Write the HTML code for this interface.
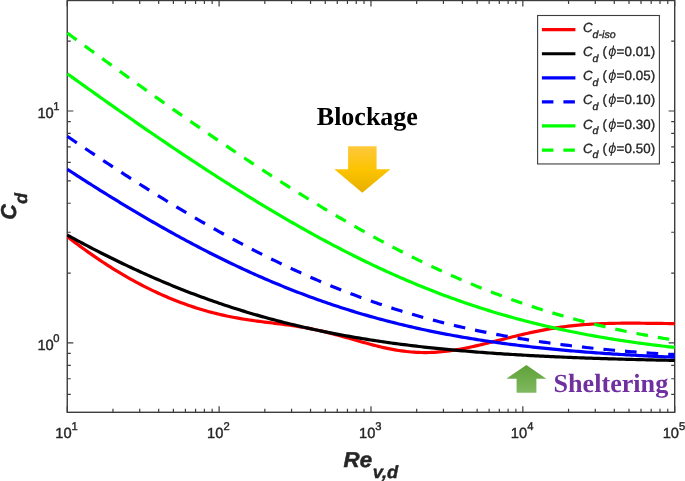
<!DOCTYPE html>
<html><head><meta charset="utf-8"><title>Cd</title>
<style>
html,body{margin:0;padding:0;background:#fff;}
body{width:685px;height:481px;overflow:hidden;}
svg{display:block;will-change:transform;}
text{text-rendering:geometricPrecision;font-family:"Liberation Sans",sans-serif;fill:#262626;}
.tk{font-size:14.7px;stroke:#262626;stroke-width:0.4px;}
.sp{font-size:11.2px;}
.lg{font-size:13.3px;font-style:italic;stroke:#262626;stroke-width:0.35px;}
.lgs{font-size:10.6px;font-style:italic;}
.lgr{font-size:13.3px;font-style:normal;}
.ph{font-size:14.6px;font-style:italic;stroke-width:0;}
.al{font-size:21.5px;font-weight:bold;font-style:italic;stroke:#262626;stroke-width:0.5px;}
.als{font-size:17.6px;font-weight:bold;font-style:italic;stroke:#262626;stroke-width:0.4px;}
.an{font-family:"Liberation Serif",serif;font-weight:bold;font-size:26px;}
.an2{font-size:26.15px;}
</style></head><body>
<svg width="685" height="481" viewBox="0 0 685 481">
<defs>
<linearGradient id="gy" x1="0" y1="0" x2="0" y2="1"><stop offset="0" stop-color="#ffc83c"/><stop offset="0.5" stop-color="#fcc400"/><stop offset="1" stop-color="#e6af00"/></linearGradient>
<linearGradient id="gg" x1="0" y1="0" x2="0" y2="1"><stop offset="0" stop-color="#5fa137"/><stop offset="1" stop-color="#80b960"/></linearGradient>
<clipPath id="cp"><rect x="66.65" y="-0.10" width="608.65" height="413.00"/></clipPath>
</defs>
<rect width="685" height="481" fill="#fff"/>
<path d="M67.25 412.30V406.20 M67.25 0.50V6.60 M112.97 412.30V408.80 M112.97 0.50V4.00 M139.71 412.30V408.80 M139.71 0.50V4.00 M158.68 412.30V408.80 M158.68 0.50V4.00 M173.40 412.30V408.80 M173.40 0.50V4.00 M185.42 412.30V408.80 M185.42 0.50V4.00 M195.59 412.30V408.80 M195.59 0.50V4.00 M204.40 412.30V408.80 M204.40 0.50V4.00 M212.16 412.30V408.80 M212.16 0.50V4.00 M219.11 412.30V406.20 M219.11 0.50V6.60 M264.83 412.30V408.80 M264.83 0.50V4.00 M291.57 412.30V408.80 M291.57 0.50V4.00 M310.54 412.30V408.80 M310.54 0.50V4.00 M325.26 412.30V408.80 M325.26 0.50V4.00 M337.28 412.30V408.80 M337.28 0.50V4.00 M347.45 412.30V408.80 M347.45 0.50V4.00 M356.26 412.30V408.80 M356.26 0.50V4.00 M364.03 412.30V408.80 M364.03 0.50V4.00 M370.98 412.30V406.20 M370.98 0.50V6.60 M416.69 412.30V408.80 M416.69 0.50V4.00 M443.43 412.30V408.80 M443.43 0.50V4.00 M462.41 412.30V408.80 M462.41 0.50V4.00 M477.12 412.30V408.80 M477.12 0.50V4.00 M489.15 412.30V408.80 M489.15 0.50V4.00 M499.31 412.30V408.80 M499.31 0.50V4.00 M508.12 412.30V408.80 M508.12 0.50V4.00 M515.89 412.30V408.80 M515.89 0.50V4.00 M522.84 412.30V406.20 M522.84 0.50V6.60 M568.55 412.30V408.80 M568.55 0.50V4.00 M595.29 412.30V408.80 M595.29 0.50V4.00 M614.27 412.30V408.80 M614.27 0.50V4.00 M628.98 412.30V408.80 M628.98 0.50V4.00 M641.01 412.30V408.80 M641.01 0.50V4.00 M651.18 412.30V408.80 M651.18 0.50V4.00 M659.98 412.30V408.80 M659.98 0.50V4.00 M667.75 412.30V408.80 M667.75 0.50V4.00 M674.70 412.30V406.20 M674.70 0.50V6.60 M67.25 342.85H73.35 M674.70 342.85H668.60 M67.25 111.00H73.35 M674.70 111.00H668.60 M67.25 394.29H70.75 M674.70 394.29H671.20 M67.25 378.76H70.75 M674.70 378.76H671.20 M67.25 365.32H70.75 M674.70 365.32H671.20 M67.25 353.46H70.75 M674.70 353.46H671.20 M67.25 273.06H70.75 M674.70 273.06H671.20 M67.25 232.23H70.75 M674.70 232.23H671.20 M67.25 203.26H70.75 M674.70 203.26H671.20 M67.25 180.79H70.75 M674.70 180.79H671.20 M67.25 162.44H70.75 M674.70 162.44H671.20 M67.25 146.91H70.75 M674.70 146.91H671.20 M67.25 133.47H70.75 M674.70 133.47H671.20 M67.25 121.61H70.75 M674.70 121.61H671.20 M67.25 41.21H70.75 M674.70 41.21H671.20" stroke="#3c3c3c" stroke-width="1.2" fill="none"/>
<rect x="67.25" y="0.50" width="607.45" height="411.80" fill="none" stroke="#3c3c3c" stroke-width="1.4"/>
<g clip-path="url(#cp)" fill="none" stroke-width="3.20" stroke-linejoin="round">
<path d="M67.25 236.60 L69.78 238.55 L72.31 240.47 L74.84 242.38 L77.37 244.27 L79.91 246.14 L82.44 247.99 L84.97 249.82 L87.50 251.63 L90.03 253.42 L92.56 255.18 L95.09 256.93 L97.62 258.65 L100.15 260.35 L102.68 262.03 L105.22 263.69 L107.75 265.33 L110.28 266.94 L112.81 268.53 L115.34 270.10 L117.87 271.65 L120.40 273.17 L122.93 274.67 L125.46 276.15 L127.99 277.60 L130.53 279.03 L133.06 280.44 L135.59 281.82 L138.12 283.18 L140.65 284.52 L143.18 285.83 L145.71 287.12 L148.24 288.39 L150.77 289.63 L153.31 290.85 L155.84 292.05 L158.37 293.22 L160.90 294.36 L163.43 295.49 L165.96 296.59 L168.49 297.66 L171.02 298.71 L173.55 299.74 L176.08 300.74 L178.62 301.72 L181.15 302.68 L183.68 303.61 L186.21 304.52 L188.74 305.41 L191.27 306.27 L193.80 307.11 L196.33 307.93 L198.86 308.72 L201.40 309.49 L203.93 310.24 L206.46 310.96 L208.99 311.67 L211.52 312.34 L214.05 313.00 L216.58 313.64 L219.11 314.25 L221.64 314.84 L224.17 315.41 L226.71 315.95 L229.24 316.48 L231.77 316.99 L234.30 317.47 L236.83 317.94 L239.36 318.39 L241.89 318.82 L244.42 319.23 L246.95 319.63 L249.49 320.01 L252.02 320.38 L254.55 320.74 L257.08 321.08 L259.61 321.41 L262.14 321.74 L264.67 322.06 L267.20 322.37 L269.73 322.69 L272.26 323.00 L274.80 323.31 L277.33 323.62 L279.86 323.94 L282.39 324.26 L284.92 324.59 L287.45 324.93 L289.98 325.29 L292.51 325.65 L295.04 326.03 L297.57 326.43 L300.11 326.84 L302.64 327.27 L305.17 327.72 L307.70 328.18 L310.23 328.67 L312.76 329.18 L315.29 329.70 L317.82 330.25 L320.35 330.81 L322.89 331.40 L325.42 332.00 L327.95 332.62 L330.48 333.26 L333.01 333.91 L335.54 334.58 L338.07 335.26 L340.60 335.95 L343.13 336.65 L345.66 337.36 L348.20 338.07 L350.73 338.79 L353.26 339.51 L355.79 340.24 L358.32 340.96 L360.85 341.67 L363.38 342.38 L365.91 343.08 L368.44 343.77 L370.98 344.45 L373.51 345.11 L376.04 345.76 L378.57 346.38 L381.10 346.99 L383.63 347.57 L386.16 348.13 L388.69 348.66 L391.22 349.16 L393.75 349.63 L396.29 350.07 L398.82 350.48 L401.35 350.85 L403.88 351.19 L406.41 351.49 L408.94 351.76 L411.47 351.98 L414.00 352.17 L416.53 352.32 L419.06 352.44 L421.60 352.51 L424.13 352.54 L426.66 352.54 L429.19 352.50 L431.72 352.42 L434.25 352.30 L436.78 352.14 L439.31 351.95 L441.84 351.73 L444.38 351.47 L446.91 351.18 L449.44 350.85 L451.97 350.50 L454.50 350.11 L457.03 349.70 L459.56 349.27 L462.09 348.80 L464.62 348.32 L467.15 347.81 L469.69 347.28 L472.22 346.74 L474.75 346.18 L477.28 345.60 L479.81 345.01 L482.34 344.41 L484.87 343.79 L487.40 343.17 L489.93 342.54 L492.47 341.91 L495.00 341.27 L497.53 340.63 L500.06 339.98 L502.59 339.34 L505.12 338.70 L507.65 338.06 L510.18 337.43 L512.71 336.80 L515.24 336.18 L517.78 335.57 L520.31 334.96 L522.84 334.37 L525.37 333.79 L527.90 333.21 L530.43 332.65 L532.96 332.11 L535.49 331.58 L538.02 331.06 L540.55 330.56 L543.09 330.07 L545.62 329.60 L548.15 329.15 L550.68 328.72 L553.21 328.30 L555.74 327.90 L558.27 327.52 L560.80 327.15 L563.33 326.81 L565.87 326.48 L568.40 326.17 L570.93 325.88 L573.46 325.60 L575.99 325.35 L578.52 325.11 L581.05 324.88 L583.58 324.68 L586.11 324.49 L588.64 324.31 L591.18 324.15 L593.71 324.01 L596.24 323.88 L598.77 323.76 L601.30 323.66 L603.83 323.57 L606.36 323.49 L608.89 323.42 L611.42 323.36 L613.96 323.31 L616.49 323.27 L619.02 323.24 L621.55 323.22 L624.08 323.20 L626.61 323.19 L629.14 323.19 L631.67 323.19 L634.20 323.19 L636.73 323.20 L639.27 323.22 L641.80 323.24 L644.33 323.26 L646.86 323.28 L649.39 323.30 L651.92 323.33 L654.45 323.36 L656.98 323.39 L659.51 323.42 L662.04 323.45 L664.58 323.48 L667.11 323.51 L669.64 323.54 L672.17 323.57 L674.70 323.60" stroke="#ff0000"/>
<path d="M67.25 235.06 L69.78 236.44 L72.31 237.82 L74.84 239.19 L77.37 240.55 L79.91 241.91 L82.44 243.26 L84.97 244.60 L87.50 245.93 L90.03 247.25 L92.56 248.57 L95.09 249.88 L97.62 251.18 L100.15 252.47 L102.68 253.75 L105.22 255.02 L107.75 256.29 L110.28 257.55 L112.81 258.80 L115.34 260.04 L117.87 261.27 L120.40 262.50 L122.93 263.71 L125.46 264.92 L127.99 266.12 L130.53 267.31 L133.06 268.49 L135.59 269.66 L138.12 270.82 L140.65 271.97 L143.18 273.12 L145.71 274.25 L148.24 275.38 L150.77 276.50 L153.31 277.61 L155.84 278.71 L158.37 279.80 L160.90 280.88 L163.43 281.95 L165.96 283.02 L168.49 284.07 L171.02 285.11 L173.55 286.15 L176.08 287.18 L178.62 288.19 L181.15 289.20 L183.68 290.20 L186.21 291.19 L188.74 292.17 L191.27 293.14 L193.80 294.10 L196.33 295.05 L198.86 296.00 L201.40 296.93 L203.93 297.86 L206.46 298.77 L208.99 299.68 L211.52 300.57 L214.05 301.46 L216.58 302.34 L219.11 303.21 L221.64 304.07 L224.17 304.92 L226.71 305.76 L229.24 306.60 L231.77 307.42 L234.30 308.23 L236.83 309.04 L239.36 309.84 L241.89 310.62 L244.42 311.40 L246.95 312.17 L249.49 312.93 L252.02 313.68 L254.55 314.43 L257.08 315.16 L259.61 315.89 L262.14 316.61 L264.67 317.31 L267.20 318.01 L269.73 318.70 L272.26 319.39 L274.80 320.06 L277.33 320.73 L279.86 321.39 L282.39 322.04 L284.92 322.68 L287.45 323.31 L289.98 323.93 L292.51 324.55 L295.04 325.16 L297.57 325.76 L300.11 326.35 L302.64 326.94 L305.17 327.51 L307.70 328.08 L310.23 328.65 L312.76 329.20 L315.29 329.75 L317.82 330.29 L320.35 330.82 L322.89 331.34 L325.42 331.86 L327.95 332.37 L330.48 332.87 L333.01 333.37 L335.54 333.85 L338.07 334.34 L340.60 334.81 L343.13 335.28 L345.66 335.74 L348.20 336.19 L350.73 336.64 L353.26 337.08 L355.79 337.52 L358.32 337.95 L360.85 338.37 L363.38 338.78 L365.91 339.19 L368.44 339.59 L370.98 339.99 L373.51 340.38 L376.04 340.77 L378.57 341.15 L381.10 341.52 L383.63 341.89 L386.16 342.25 L388.69 342.61 L391.22 342.96 L393.75 343.30 L396.29 343.64 L398.82 343.98 L401.35 344.31 L403.88 344.63 L406.41 344.95 L408.94 345.26 L411.47 345.57 L414.00 345.88 L416.53 346.17 L419.06 346.47 L421.60 346.76 L424.13 347.04 L426.66 347.32 L429.19 347.60 L431.72 347.87 L434.25 348.14 L436.78 348.40 L439.31 348.66 L441.84 348.91 L444.38 349.16 L446.91 349.40 L449.44 349.65 L451.97 349.88 L454.50 350.12 L457.03 350.35 L459.56 350.57 L462.09 350.79 L464.62 351.01 L467.15 351.23 L469.69 351.44 L472.22 351.64 L474.75 351.85 L477.28 352.05 L479.81 352.24 L482.34 352.44 L484.87 352.63 L487.40 352.81 L489.93 353.00 L492.47 353.18 L495.00 353.35 L497.53 353.53 L500.06 353.70 L502.59 353.87 L505.12 354.03 L507.65 354.20 L510.18 354.36 L512.71 354.51 L515.24 354.67 L517.78 354.82 L520.31 354.97 L522.84 355.11 L525.37 355.26 L527.90 355.40 L530.43 355.54 L532.96 355.67 L535.49 355.80 L538.02 355.94 L540.55 356.07 L543.09 356.19 L545.62 356.32 L548.15 356.44 L550.68 356.56 L553.21 356.68 L555.74 356.79 L558.27 356.91 L560.80 357.02 L563.33 357.13 L565.87 357.23 L568.40 357.34 L570.93 357.44 L573.46 357.55 L575.99 357.65 L578.52 357.74 L581.05 357.84 L583.58 357.94 L586.11 358.03 L588.64 358.12 L591.18 358.21 L593.71 358.30 L596.24 358.38 L598.77 358.47 L601.30 358.55 L603.83 358.64 L606.36 358.72 L608.89 358.79 L611.42 358.87 L613.96 358.95 L616.49 359.02 L619.02 359.10 L621.55 359.17 L624.08 359.24 L626.61 359.31 L629.14 359.38 L631.67 359.44 L634.20 359.51 L636.73 359.57 L639.27 359.64 L641.80 359.70 L644.33 359.76 L646.86 359.82 L649.39 359.88 L651.92 359.94 L654.45 359.99 L656.98 360.05 L659.51 360.10 L662.04 360.16 L664.58 360.21 L667.11 360.26 L669.64 360.31 L672.17 360.36 L674.70 360.41" stroke="#000000"/>
<path d="M67.25 169.24 L69.78 170.89 L72.31 172.53 L74.84 174.17 L77.37 175.80 L79.91 177.43 L82.44 179.05 L84.97 180.67 L87.50 182.29 L90.03 183.90 L92.56 185.50 L95.09 187.10 L97.62 188.69 L100.15 190.28 L102.68 191.86 L105.22 193.43 L107.75 195.00 L110.28 196.57 L112.81 198.13 L115.34 199.68 L117.87 201.23 L120.40 202.77 L122.93 204.31 L125.46 205.83 L127.99 207.36 L130.53 208.87 L133.06 210.39 L135.59 211.89 L138.12 213.39 L140.65 214.88 L143.18 216.36 L145.71 217.84 L148.24 219.31 L150.77 220.78 L153.31 222.24 L155.84 223.69 L158.37 225.13 L160.90 226.57 L163.43 228.00 L165.96 229.42 L168.49 230.84 L171.02 232.24 L173.55 233.65 L176.08 235.04 L178.62 236.42 L181.15 237.80 L183.68 239.17 L186.21 240.54 L188.74 241.89 L191.27 243.24 L193.80 244.58 L196.33 245.91 L198.86 247.24 L201.40 248.55 L203.93 249.86 L206.46 251.16 L208.99 252.45 L211.52 253.73 L214.05 255.01 L216.58 256.27 L219.11 257.53 L221.64 258.78 L224.17 260.02 L226.71 261.26 L229.24 262.48 L231.77 263.70 L234.30 264.90 L236.83 266.10 L239.36 267.29 L241.89 268.47 L244.42 269.64 L246.95 270.81 L249.49 271.96 L252.02 273.10 L254.55 274.24 L257.08 275.37 L259.61 276.49 L262.14 277.59 L264.67 278.69 L267.20 279.78 L269.73 280.87 L272.26 281.94 L274.80 283.00 L277.33 284.06 L279.86 285.10 L282.39 286.14 L284.92 287.16 L287.45 288.18 L289.98 289.19 L292.51 290.19 L295.04 291.18 L297.57 292.16 L300.11 293.13 L302.64 294.09 L305.17 295.04 L307.70 295.99 L310.23 296.92 L312.76 297.84 L315.29 298.76 L317.82 299.67 L320.35 300.56 L322.89 301.45 L325.42 302.33 L327.95 303.20 L330.48 304.06 L333.01 304.91 L335.54 305.75 L338.07 306.58 L340.60 307.41 L343.13 308.22 L345.66 309.03 L348.20 309.83 L350.73 310.61 L353.26 311.39 L355.79 312.16 L358.32 312.92 L360.85 313.67 L363.38 314.42 L365.91 315.15 L368.44 315.88 L370.98 316.60 L373.51 317.30 L376.04 318.00 L378.57 318.70 L381.10 319.38 L383.63 320.05 L386.16 320.72 L388.69 321.38 L391.22 322.03 L393.75 322.67 L396.29 323.30 L398.82 323.93 L401.35 324.54 L403.88 325.15 L406.41 325.75 L408.94 326.35 L411.47 326.93 L414.00 327.51 L416.53 328.08 L419.06 328.64 L421.60 329.19 L424.13 329.74 L426.66 330.28 L429.19 330.81 L431.72 331.33 L434.25 331.85 L436.78 332.36 L439.31 332.86 L441.84 333.36 L444.38 333.85 L446.91 334.33 L449.44 334.80 L451.97 335.27 L454.50 335.73 L457.03 336.19 L459.56 336.64 L462.09 337.08 L464.62 337.51 L467.15 337.94 L469.69 338.36 L472.22 338.78 L474.75 339.19 L477.28 339.59 L479.81 339.99 L482.34 340.38 L484.87 340.76 L487.40 341.14 L489.93 341.52 L492.47 341.88 L495.00 342.25 L497.53 342.60 L500.06 342.95 L502.59 343.30 L505.12 343.64 L507.65 343.97 L510.18 344.30 L512.71 344.63 L515.24 344.94 L517.78 345.26 L520.31 345.57 L522.84 345.87 L525.37 346.17 L527.90 346.46 L530.43 346.75 L532.96 347.04 L535.49 347.32 L538.02 347.59 L540.55 347.87 L543.09 348.13 L545.62 348.40 L548.15 348.65 L550.68 348.91 L553.21 349.16 L555.74 349.40 L558.27 349.64 L560.80 349.88 L563.33 350.11 L565.87 350.34 L568.40 350.57 L570.93 350.79 L573.46 351.01 L575.99 351.22 L578.52 351.43 L581.05 351.64 L583.58 351.84 L586.11 352.04 L588.64 352.24 L591.18 352.43 L593.71 352.62 L596.24 352.81 L598.77 352.99 L601.30 353.17 L603.83 353.35 L606.36 353.53 L608.89 353.70 L611.42 353.87 L613.96 354.03 L616.49 354.19 L619.02 354.35 L621.55 354.51 L624.08 354.66 L626.61 354.82 L629.14 354.96 L631.67 355.11 L634.20 355.25 L636.73 355.39 L639.27 355.53 L641.80 355.67 L644.33 355.80 L646.86 355.93 L649.39 356.06 L651.92 356.19 L654.45 356.31 L656.98 356.44 L659.51 356.56 L662.04 356.67 L664.58 356.79 L667.11 356.90 L669.64 357.02 L672.17 357.13 L674.70 357.23" stroke="#0000ff"/>
<path d="M67.25 136.31 L69.78 138.04 L72.31 139.76 L74.84 141.48 L77.37 143.20 L79.91 144.91 L82.44 146.62 L84.97 148.33 L87.50 150.03 L90.03 151.72 L92.56 153.42 L95.09 155.11 L97.62 156.79 L100.15 158.47 L102.68 160.15 L105.22 161.82 L107.75 163.49 L110.28 165.15 L112.81 166.81 L115.34 168.46 L117.87 170.11 L120.40 171.76 L122.93 173.40 L125.46 175.03 L127.99 176.67 L130.53 178.29 L133.06 179.91 L135.59 181.53 L138.12 183.14 L140.65 184.74 L143.18 186.34 L145.71 187.94 L148.24 189.53 L150.77 191.11 L153.31 192.69 L155.84 194.27 L158.37 195.83 L160.90 197.39 L163.43 198.95 L165.96 200.50 L168.49 202.04 L171.02 203.58 L173.55 205.12 L176.08 206.64 L178.62 208.16 L181.15 209.67 L183.68 211.18 L186.21 212.68 L188.74 214.18 L191.27 215.67 L193.80 217.15 L196.33 218.62 L198.86 220.09 L201.40 221.55 L203.93 223.00 L206.46 224.45 L208.99 225.89 L211.52 227.33 L214.05 228.75 L216.58 230.17 L219.11 231.58 L221.64 232.99 L224.17 234.38 L226.71 235.77 L229.24 237.16 L231.77 238.53 L234.30 239.90 L236.83 241.26 L239.36 242.61 L241.89 243.95 L244.42 245.29 L246.95 246.61 L249.49 247.93 L252.02 249.24 L254.55 250.55 L257.08 251.84 L259.61 253.13 L262.14 254.41 L264.67 255.68 L267.20 256.94 L269.73 258.20 L272.26 259.44 L274.80 260.68 L277.33 261.91 L279.86 263.12 L282.39 264.34 L284.92 265.54 L287.45 266.73 L289.98 267.92 L292.51 269.09 L295.04 270.26 L297.57 271.42 L300.11 272.57 L302.64 273.71 L305.17 274.84 L307.70 275.96 L310.23 277.07 L312.76 278.18 L315.29 279.27 L317.82 280.36 L320.35 281.44 L322.89 282.50 L325.42 283.56 L327.95 284.61 L330.48 285.65 L333.01 286.68 L335.54 287.70 L338.07 288.72 L340.60 289.72 L343.13 290.71 L345.66 291.70 L348.20 292.67 L350.73 293.64 L353.26 294.60 L355.79 295.54 L358.32 296.48 L360.85 297.41 L363.38 298.33 L365.91 299.24 L368.44 300.14 L370.98 301.03 L373.51 301.92 L376.04 302.79 L378.57 303.66 L381.10 304.51 L383.63 305.36 L386.16 306.19 L388.69 307.02 L391.22 307.84 L393.75 308.65 L396.29 309.45 L398.82 310.24 L401.35 311.03 L403.88 311.80 L406.41 312.57 L408.94 313.32 L411.47 314.07 L414.00 314.81 L416.53 315.54 L419.06 316.26 L421.60 316.97 L424.13 317.68 L426.66 318.37 L429.19 319.06 L431.72 319.74 L434.25 320.41 L436.78 321.07 L439.31 321.72 L441.84 322.37 L444.38 323.00 L446.91 323.63 L449.44 324.25 L451.97 324.87 L454.50 325.47 L457.03 326.07 L459.56 326.66 L462.09 327.24 L464.62 327.81 L467.15 328.38 L469.69 328.93 L472.22 329.48 L474.75 330.03 L477.28 330.56 L479.81 331.09 L482.34 331.61 L484.87 332.12 L487.40 332.63 L489.93 333.13 L492.47 333.62 L495.00 334.10 L497.53 334.58 L500.06 335.05 L502.59 335.52 L505.12 335.97 L507.65 336.43 L510.18 336.87 L512.71 337.31 L515.24 337.74 L517.78 338.16 L520.31 338.58 L522.84 338.99 L525.37 339.40 L527.90 339.80 L530.43 340.19 L532.96 340.58 L535.49 340.96 L538.02 341.34 L540.55 341.71 L543.09 342.08 L545.62 342.43 L548.15 342.79 L550.68 343.14 L553.21 343.48 L555.74 343.82 L558.27 344.15 L560.80 344.47 L563.33 344.80 L565.87 345.11 L568.40 345.42 L570.93 345.73 L573.46 346.03 L575.99 346.33 L578.52 346.62 L581.05 346.91 L583.58 347.19 L586.11 347.47 L588.64 347.74 L591.18 348.01 L593.71 348.27 L596.24 348.53 L598.77 348.79 L601.30 349.04 L603.83 349.29 L606.36 349.53 L608.89 349.77 L611.42 350.00 L613.96 350.24 L616.49 350.46 L619.02 350.69 L621.55 350.91 L624.08 351.12 L626.61 351.33 L629.14 351.54 L631.67 351.75 L634.20 351.95 L636.73 352.15 L639.27 352.34 L641.80 352.54 L644.33 352.72 L646.86 352.91 L649.39 353.09 L651.92 353.27 L654.45 353.44 L656.98 353.62 L659.51 353.79 L662.04 353.95 L664.58 354.12 L667.11 354.28 L669.64 354.44 L672.17 354.59 L674.70 354.74" stroke="#0000ff" stroke-dasharray="11.6 10.05"/>
<path d="M67.25 73.70 L69.78 75.52 L72.31 77.34 L74.84 79.15 L77.37 80.97 L79.91 82.78 L82.44 84.60 L84.97 86.40 L87.50 88.21 L90.03 90.02 L92.56 91.82 L95.09 93.62 L97.62 95.42 L100.15 97.21 L102.68 99.00 L105.22 100.80 L107.75 102.58 L110.28 104.37 L112.81 106.15 L115.34 107.93 L117.87 109.71 L120.40 111.48 L122.93 113.25 L125.46 115.02 L127.99 116.79 L130.53 118.55 L133.06 120.31 L135.59 122.07 L138.12 123.82 L140.65 125.57 L143.18 127.32 L145.71 129.07 L148.24 130.81 L150.77 132.54 L153.31 134.28 L155.84 136.01 L158.37 137.74 L160.90 139.46 L163.43 141.18 L165.96 142.90 L168.49 144.61 L171.02 146.32 L173.55 148.03 L176.08 149.73 L178.62 151.43 L181.15 153.12 L183.68 154.81 L186.21 156.49 L188.74 158.18 L191.27 159.85 L193.80 161.53 L196.33 163.19 L198.86 164.86 L201.40 166.52 L203.93 168.17 L206.46 169.82 L208.99 171.47 L211.52 173.11 L214.05 174.75 L216.58 176.38 L219.11 178.01 L221.64 179.63 L224.17 181.24 L226.71 182.86 L229.24 184.46 L231.77 186.06 L234.30 187.66 L236.83 189.25 L239.36 190.84 L241.89 192.41 L244.42 193.99 L246.95 195.56 L249.49 197.12 L252.02 198.68 L254.55 200.23 L257.08 201.77 L259.61 203.31 L262.14 204.85 L264.67 206.37 L267.20 207.89 L269.73 209.41 L272.26 210.92 L274.80 212.42 L277.33 213.92 L279.86 215.40 L282.39 216.89 L284.92 218.36 L287.45 219.83 L289.98 221.29 L292.51 222.75 L295.04 224.20 L297.57 225.64 L300.11 227.07 L302.64 228.50 L305.17 229.92 L307.70 231.33 L310.23 232.74 L312.76 234.14 L315.29 235.53 L317.82 236.91 L320.35 238.29 L322.89 239.66 L325.42 241.02 L327.95 242.37 L330.48 243.71 L333.01 245.05 L335.54 246.38 L338.07 247.70 L340.60 249.01 L343.13 250.32 L345.66 251.62 L348.20 252.90 L350.73 254.18 L353.26 255.46 L355.79 256.72 L358.32 257.98 L360.85 259.22 L363.38 260.46 L365.91 261.69 L368.44 262.91 L370.98 264.12 L373.51 265.33 L376.04 266.52 L378.57 267.71 L381.10 268.89 L383.63 270.05 L386.16 271.21 L388.69 272.36 L391.22 273.51 L393.75 274.64 L396.29 275.76 L398.82 276.88 L401.35 277.98 L403.88 279.08 L406.41 280.17 L408.94 281.25 L411.47 282.32 L414.00 283.38 L416.53 284.43 L419.06 285.47 L421.60 286.50 L424.13 287.52 L426.66 288.54 L429.19 289.54 L431.72 290.54 L434.25 291.52 L436.78 292.50 L439.31 293.47 L441.84 294.43 L444.38 295.38 L446.91 296.32 L449.44 297.25 L451.97 298.17 L454.50 299.08 L457.03 299.98 L459.56 300.88 L462.09 301.76 L464.62 302.64 L467.15 303.50 L469.69 304.36 L472.22 305.21 L474.75 306.05 L477.28 306.88 L479.81 307.70 L482.34 308.51 L484.87 309.31 L487.40 310.10 L489.93 310.89 L492.47 311.66 L495.00 312.43 L497.53 313.19 L500.06 313.94 L502.59 314.68 L505.12 315.41 L507.65 316.13 L510.18 316.85 L512.71 317.55 L515.24 318.25 L517.78 318.94 L520.31 319.62 L522.84 320.29 L525.37 320.95 L527.90 321.61 L530.43 322.25 L532.96 322.89 L535.49 323.52 L538.02 324.14 L540.55 324.76 L543.09 325.36 L545.62 325.96 L548.15 326.55 L550.68 327.13 L553.21 327.71 L555.74 328.28 L558.27 328.84 L560.80 329.39 L563.33 329.93 L565.87 330.47 L568.40 331.00 L570.93 331.52 L573.46 332.03 L575.99 332.54 L578.52 333.04 L581.05 333.53 L583.58 334.02 L586.11 334.50 L588.64 334.97 L591.18 335.44 L593.71 335.89 L596.24 336.35 L598.77 336.79 L601.30 337.23 L603.83 337.66 L606.36 338.09 L608.89 338.51 L611.42 338.92 L613.96 339.33 L616.49 339.73 L619.02 340.13 L621.55 340.51 L624.08 340.90 L626.61 341.27 L629.14 341.65 L631.67 342.01 L634.20 342.37 L636.73 342.73 L639.27 343.08 L641.80 343.42 L644.33 343.76 L646.86 344.09 L649.39 344.42 L651.92 344.74 L654.45 345.06 L656.98 345.37 L659.51 345.68 L662.04 345.98 L664.58 346.28 L667.11 346.57 L669.64 346.86 L672.17 347.14 L674.70 347.42" stroke="#00ff00"/>
<path d="M67.25 33.02 L69.78 34.88 L72.31 36.74 L74.84 38.59 L77.37 40.45 L79.91 42.30 L82.44 44.15 L84.97 46.00 L87.50 47.85 L90.03 49.70 L92.56 51.54 L95.09 53.39 L97.62 55.23 L100.15 57.07 L102.68 58.91 L105.22 60.74 L107.75 62.58 L110.28 64.41 L112.81 66.24 L115.34 68.07 L117.87 69.90 L120.40 71.73 L122.93 73.55 L125.46 75.37 L127.99 77.19 L130.53 79.01 L133.06 80.83 L135.59 82.64 L138.12 84.45 L140.65 86.26 L143.18 88.07 L145.71 89.87 L148.24 91.68 L150.77 93.48 L153.31 95.28 L155.84 97.07 L158.37 98.86 L160.90 100.65 L163.43 102.44 L165.96 104.23 L168.49 106.01 L171.02 107.79 L173.55 109.57 L176.08 111.34 L178.62 113.12 L181.15 114.88 L183.68 116.65 L186.21 118.41 L188.74 120.17 L191.27 121.93 L193.80 123.69 L196.33 125.44 L198.86 127.18 L201.40 128.93 L203.93 130.67 L206.46 132.41 L208.99 134.14 L211.52 135.87 L214.05 137.60 L216.58 139.33 L219.11 141.05 L221.64 142.76 L224.17 144.48 L226.71 146.19 L229.24 147.89 L231.77 149.59 L234.30 151.29 L236.83 152.99 L239.36 154.68 L241.89 156.36 L244.42 158.04 L246.95 159.72 L249.49 161.39 L252.02 163.06 L254.55 164.73 L257.08 166.39 L259.61 168.04 L262.14 169.69 L264.67 171.34 L267.20 172.98 L269.73 174.62 L272.26 176.25 L274.80 177.88 L277.33 179.50 L279.86 181.12 L282.39 182.73 L284.92 184.34 L287.45 185.94 L289.98 187.53 L292.51 189.13 L295.04 190.71 L297.57 192.29 L300.11 193.87 L302.64 195.43 L305.17 197.00 L307.70 198.56 L310.23 200.11 L312.76 201.65 L315.29 203.19 L317.82 204.73 L320.35 206.25 L322.89 207.78 L325.42 209.29 L327.95 210.80 L330.48 212.30 L333.01 213.80 L335.54 215.29 L338.07 216.77 L340.60 218.25 L343.13 219.72 L345.66 221.18 L348.20 222.64 L350.73 224.08 L353.26 225.53 L355.79 226.96 L358.32 228.39 L360.85 229.81 L363.38 231.22 L365.91 232.63 L368.44 234.03 L370.98 235.42 L373.51 236.80 L376.04 238.18 L378.57 239.55 L381.10 240.91 L383.63 242.26 L386.16 243.61 L388.69 244.95 L391.22 246.28 L393.75 247.60 L396.29 248.91 L398.82 250.22 L401.35 251.51 L403.88 252.80 L406.41 254.08 L408.94 255.36 L411.47 256.62 L414.00 257.88 L416.53 259.12 L419.06 260.36 L421.60 261.59 L424.13 262.82 L426.66 264.03 L429.19 265.23 L431.72 266.43 L434.25 267.62 L436.78 268.79 L439.31 269.96 L441.84 271.12 L444.38 272.27 L446.91 273.42 L449.44 274.55 L451.97 275.68 L454.50 276.79 L457.03 277.90 L459.56 278.99 L462.09 280.08 L464.62 281.16 L467.15 282.23 L469.69 283.29 L472.22 284.34 L474.75 285.39 L477.28 286.42 L479.81 287.44 L482.34 288.46 L484.87 289.46 L487.40 290.46 L489.93 291.45 L492.47 292.43 L495.00 293.39 L497.53 294.35 L500.06 295.30 L502.59 296.24 L505.12 297.17 L507.65 298.10 L510.18 299.01 L512.71 299.91 L515.24 300.81 L517.78 301.69 L520.31 302.57 L522.84 303.44 L525.37 304.29 L527.90 305.14 L530.43 305.98 L532.96 306.81 L535.49 307.63 L538.02 308.45 L540.55 309.25 L543.09 310.04 L545.62 310.83 L548.15 311.60 L550.68 312.37 L553.21 313.13 L555.74 313.88 L558.27 314.62 L560.80 315.35 L563.33 316.08 L565.87 316.79 L568.40 317.50 L570.93 318.20 L573.46 318.88 L575.99 319.57 L578.52 320.24 L581.05 320.90 L583.58 321.56 L586.11 322.20 L588.64 322.84 L591.18 323.47 L593.71 324.10 L596.24 324.71 L598.77 325.32 L601.30 325.92 L603.83 326.51 L606.36 327.09 L608.89 327.66 L611.42 328.23 L613.96 328.79 L616.49 329.34 L619.02 329.89 L621.55 330.43 L624.08 330.96 L626.61 331.48 L629.14 331.99 L631.67 332.50 L634.20 333.00 L636.73 333.49 L639.27 333.98 L641.80 334.46 L644.33 334.93 L646.86 335.40 L649.39 335.86 L651.92 336.31 L654.45 336.76 L656.98 337.20 L659.51 337.63 L662.04 338.06 L664.58 338.48 L667.11 338.89 L669.64 339.30 L672.17 339.70 L674.70 340.09" stroke="#00ff00" stroke-dasharray="11.6 10.05"/>
</g>
<text class="tk" x="55.25" y="438.3">10<tspan class="sp" dy="-8">1</tspan></text>
<text class="tk" x="207.11" y="438.3">10<tspan class="sp" dy="-8">2</tspan></text>
<text class="tk" x="358.98" y="438.3">10<tspan class="sp" dy="-8">3</tspan></text>
<text class="tk" x="510.84" y="438.3">10<tspan class="sp" dy="-8">4</tspan></text>
<text class="tk" x="662.70" y="438.3">10<tspan class="sp" dy="-8">5</tspan></text>
<text class="tk" x="37.4" y="350.15">10<tspan class="sp" dy="-8" dx="-0.6">0</tspan></text>
<text class="tk" x="37.4" y="118.30">10<tspan class="sp" dy="-8" dx="-0.6">1</tspan></text>
<text class="al" x="343.6" y="466.9" textLength="28.4" lengthAdjust="spacingAndGlyphs">Re</text><text class="als" x="372.8" y="478.1" textLength="25.4" lengthAdjust="spacingAndGlyphs">v,d</text>
<text class="al" transform="translate(15.9 219.7) rotate(-90)">C<tspan class="als" dy="11.5" dx="0.4">d</tspan></text>
<rect x="537.6" y="15.5" width="121.8" height="148.45" fill="#fff" stroke="#3c3c3c" stroke-width="1.1"/>
<path d="M541.9 29.65H575.4" stroke="#ff0000" stroke-width="3.20" fill="none"/>
<text class="lg" x="583" y="32.25">C<tspan class="lgs" dy="5.6">d-iso</tspan></text>
<path d="M541.9 53.73H575.4" stroke="#000000" stroke-width="3.20" fill="none"/>
<text class="lg" x="583" y="56.33">C<tspan class="lgs" dy="5.6">d</tspan><tspan class="lgr" dy="-5.6" dx="4">(</tspan><tspan class="ph" dx="1.2">ϕ</tspan><tspan class="lgr" dx="0.3" letter-spacing="0.12">=0.01)</tspan></text>
<path d="M541.9 77.81H575.4" stroke="#0000ff" stroke-width="3.20" fill="none"/>
<text class="lg" x="583" y="80.41">C<tspan class="lgs" dy="5.6">d</tspan><tspan class="lgr" dy="-5.6" dx="4">(</tspan><tspan class="ph" dx="1.2">ϕ</tspan><tspan class="lgr" dx="0.3" letter-spacing="0.12">=0.05)</tspan></text>
<path d="M541.9 101.89H575.4" stroke="#0000ff" stroke-width="3.20" stroke-dasharray="11.5 10" fill="none"/>
<text class="lg" x="583" y="104.49">C<tspan class="lgs" dy="5.6">d</tspan><tspan class="lgr" dy="-5.6" dx="4">(</tspan><tspan class="ph" dx="1.2">ϕ</tspan><tspan class="lgr" dx="0.3" letter-spacing="0.12">=0.10)</tspan></text>
<path d="M541.9 125.97H575.4" stroke="#00ff00" stroke-width="3.20" fill="none"/>
<text class="lg" x="583" y="128.57">C<tspan class="lgs" dy="5.6">d</tspan><tspan class="lgr" dy="-5.6" dx="4">(</tspan><tspan class="ph" dx="1.2">ϕ</tspan><tspan class="lgr" dx="0.3" letter-spacing="0.12">=0.30)</tspan></text>
<path d="M541.9 150.05H575.4" stroke="#00ff00" stroke-width="3.20" stroke-dasharray="11.5 10" fill="none"/>
<text class="lg" x="583" y="152.65">C<tspan class="lgs" dy="5.6">d</tspan><tspan class="lgr" dy="-5.6" dx="4">(</tspan><tspan class="ph" dx="1.2">ϕ</tspan><tspan class="lgr" dx="0.3" letter-spacing="0.12">=0.50)</tspan></text>
<text class="an" x="316.8" y="124.8" style="fill:#000">Blockage</text>
<path d="M348.1 146.3H376.6V169.3H390.4L362.3 192.8L334.3 169.3H348.1Z" fill="url(#gy)"/>
<text class="an an2" x="553.5" y="391.6" style="fill:#7030a0">Sheltering</text>
<path d="M526.4 365L546.3 378.7H536.4V392.8H516.6V378.7H506.4Z" fill="url(#gg)"/>
</svg>
</body></html>
